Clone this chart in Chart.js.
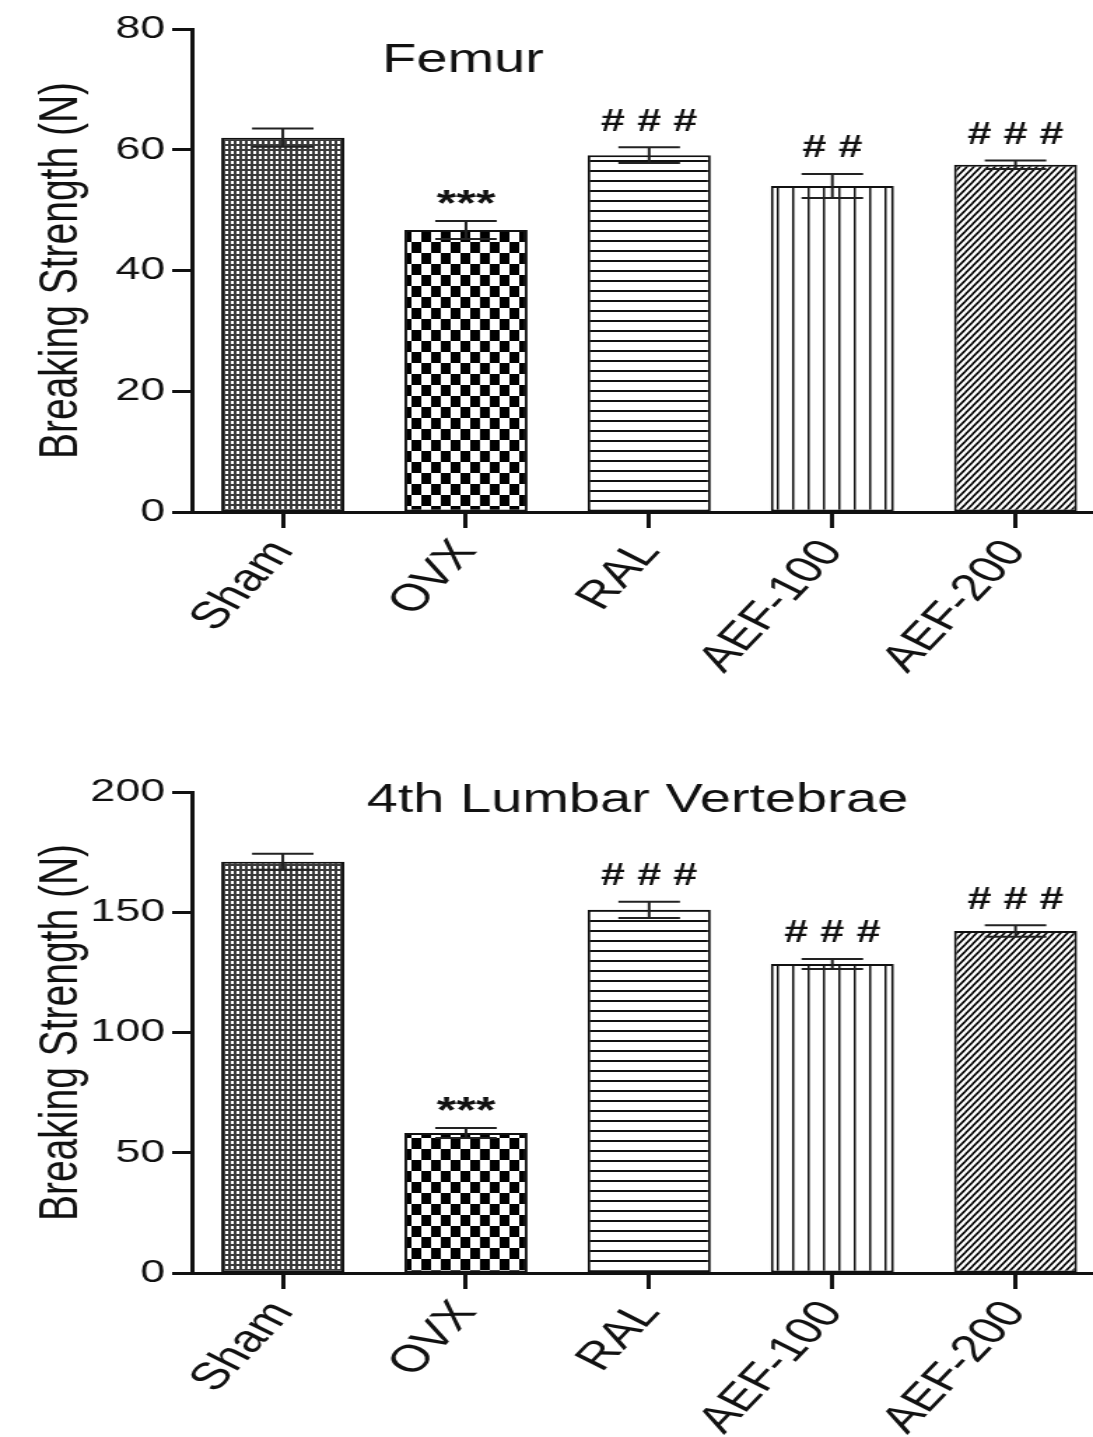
<!DOCTYPE html>
<html>
<head>
<meta charset="utf-8">
<script src="https://cdn.jsdelivr.net/npm/chart.js@4.4.0/dist/chart.umd.min.js"></script>
<style>
  html, body { margin: 0; padding: 0; background: #fff; }
  canvas { display: block; }
</style>
</head>
<body>
<!-- the figure is drawn narrow and stretched sideways, like the original scan -->
<canvas id="femurChart" width="781" height="720" style="width:1093px;height:720px"></canvas>
<canvas id="lumbarChart" width="781" height="717" style="width:1093px;height:717px"></canvas>
<script>
const groups = ["Sham", "OVX", "RAL", "AEF-100", "AEF-200"];

const femurMean = [62, 46.7, 59.1, 54.0, 57.5];
const femurSem = [1.5, 1.5, 1.3, 2.0, 0.7];
const femurMarks = ["", "***", "# # #", "# #", "# # #"];

const lumbarMean = [171, 58.2, 151, 128.5, 142.2];
const lumbarSem = [3.3, 2.1, 3.4, 2.1, 2.4];
const lumbarMarks = ["", "***", "# # #", "# # #", "# # #"];

const FONT = "'Liberation Sans', Arial, Helvetica, sans-serif";
const INK = "#111";

function makePattern(ctx, w, h, draw) {
  const c = document.createElement("canvas");
  c.width = w;
  c.height = h;
  const g = c.getContext("2d");
  g.fillStyle = "#fff";
  g.fillRect(0, 0, w, h);
  draw(g, w, h);
  return ctx.createPattern(c, "repeat");
}

function barPatterns(ctx) {
  const dots = makePattern(ctx, 4, 5, (g) => {
    g.fillStyle = "#3a3a3a";
    g.fillRect(0, 0, 4, 5);
    g.fillStyle = "#fff";
    g.fillRect(1, 1, 2, 3);
  });
  const checker = makePattern(ctx, 14, 22, (g) => {
    g.fillStyle = "#000";
    g.fillRect(0, 0, 7, 11);
    g.fillRect(7, 11, 7, 11);
  });
  const hLines = makePattern(ctx, 4, 10, (g) => {
    g.fillStyle = "#111";
    g.fillRect(0, 0, 4, 2);
  });
  const vLines = makePattern(ctx, 11, 4, (g) => {
    g.fillStyle = "#111";
    g.fillRect(5, 0, 1.5, 4);
  });
  const diag = makePattern(ctx, 5, 7, (g, w, h) => {
    g.strokeStyle = "#000";
    g.lineWidth = 1.6;
    g.beginPath();
    for (let k = -1; k <= 1; k++) {
      g.moveTo(-1, (1 + k) * h + h / w);
      g.lineTo(w + 1, (1 + k) * h - (h / w) * (w + 1));
    }
    g.stroke();
  });
  return [dots, checker, hLines, vLines, diag];
}

const errorBars = {
  id: "errorBars",
  afterDatasetsDraw(chart, args, opts) {
    const { ctx } = chart;
    const y = chart.scales.y;
    const meta = chart.getDatasetMeta(0);
    ctx.save();
    ctx.strokeStyle = "#222";
    ctx.lineWidth = 2;
    meta.data.forEach((bar, i) => {
      const m = opts.mean[i];
      const s = opts.sem[i];
      const top = y.getPixelForValue(m + s);
      const bot = y.getPixelForValue(m - s);
      const half = bar.width / 4;
      ctx.beginPath();
      ctx.moveTo(bar.x, top);
      ctx.lineTo(bar.x, bot);
      ctx.moveTo(bar.x - half, top);
      ctx.lineTo(bar.x + half, top);
      ctx.moveTo(bar.x - half, bot);
      ctx.lineTo(bar.x + half, bot);
      ctx.stroke();

      const mark = opts.marks[i];
      if (mark) {
        ctx.fillStyle = INK;
        ctx.textAlign = "center";
        ctx.textBaseline = "middle";
        ctx.font = mark === "***" ? "bold 36px " + FONT : "bold 31px " + FONT;
        ctx.fillText(mark, bar.x, top - (mark === "***" ? 15 : 25));
      }
    });

    ctx.fillStyle = INK;
    ctx.textAlign = "left";
    ctx.textBaseline = "alphabetic";
    ctx.font = "40px " + FONT;
    ctx.fillText(opts.title, opts.titleX, opts.titleY);
    ctx.restore();
  },
};

function buildChart(id, mean, sem, marks, yMax, yStep, title, titleX, titleY, padTop, xHeight) {
  const ctx = document.getElementById(id).getContext("2d");
  return new Chart(ctx, {
    type: "bar",
    data: {
      datasets: [
        {
          data: groups.map((g, i) => ({ x: i, y: mean[i] })),
          backgroundColor: barPatterns(ctx),
          borderColor: INK,
          borderWidth: 2,
          borderSkipped: false,
          barPercentage: 0.672,
          categoryPercentage: 1,
        },
      ],
    },
    options: {
      responsive: false,
      animation: false,
      devicePixelRatio: 1,
      layout: { padding: { top: padTop, left: 0, right: 0, bottom: 0 } },
      plugins: {
        legend: { display: false },
        tooltip: { enabled: false },
        errorBars: { mean, sem, marks, title, titleX, titleY },
      },
      scales: {
        x: {
          type: "linear",
          min: -0.497,
          max: 4.423,
          offset: false,
          afterBuildTicks: (axis) => {
            axis.ticks = groups.map((g, i) => ({ value: i }));
          },
          afterFit: (scale) => {
            scale.height = xHeight;
          },
          ticks: {
            callback: (v) => groups[v],
            autoSkip: false,
            minRotation: 55,
            maxRotation: 55,
            padding: 4,
            color: INK,
            font: { family: FONT, size: 38 },
          },
          grid: {
            drawOnChartArea: false,
            offset: false,
            color: INK,
            tickLength: 16,
            tickWidth: 3,
          },
          border: { color: INK, width: 3 },
        },
        y: {
          min: 0,
          max: yMax,
          afterFit: (scale) => {
            scale.width = 137;
          },
          ticks: {
            stepSize: yStep,
            padding: 5,
            color: INK,
            font: { family: FONT, size: 32 },
          },
          grid: {
            drawOnChartArea: false,
            color: INK,
            tickLength: 14,
            tickWidth: 3,
          },
          border: { color: INK, width: 3 },
          title: {
            display: true,
            text: "Breaking Strength (N)",
            color: INK,
            font: { family: FONT, size: 39 },
            padding: { top: 21, bottom: 0 },
          },
        },
      },
    },
    plugins: [errorBars],
  });
}

window.onload = function () {
  buildChart("femurChart", femurMean, femurSem, femurMarks, 80, 20, "Femur", 273, 72, 29, 208);
  buildChart("lumbarChart", lumbarMean, lumbarSem, lumbarMarks, 200, 50, "4th Lumbar Vertebrae", 262, 92, 72, 164);
};
</script>
</body>
</html>
